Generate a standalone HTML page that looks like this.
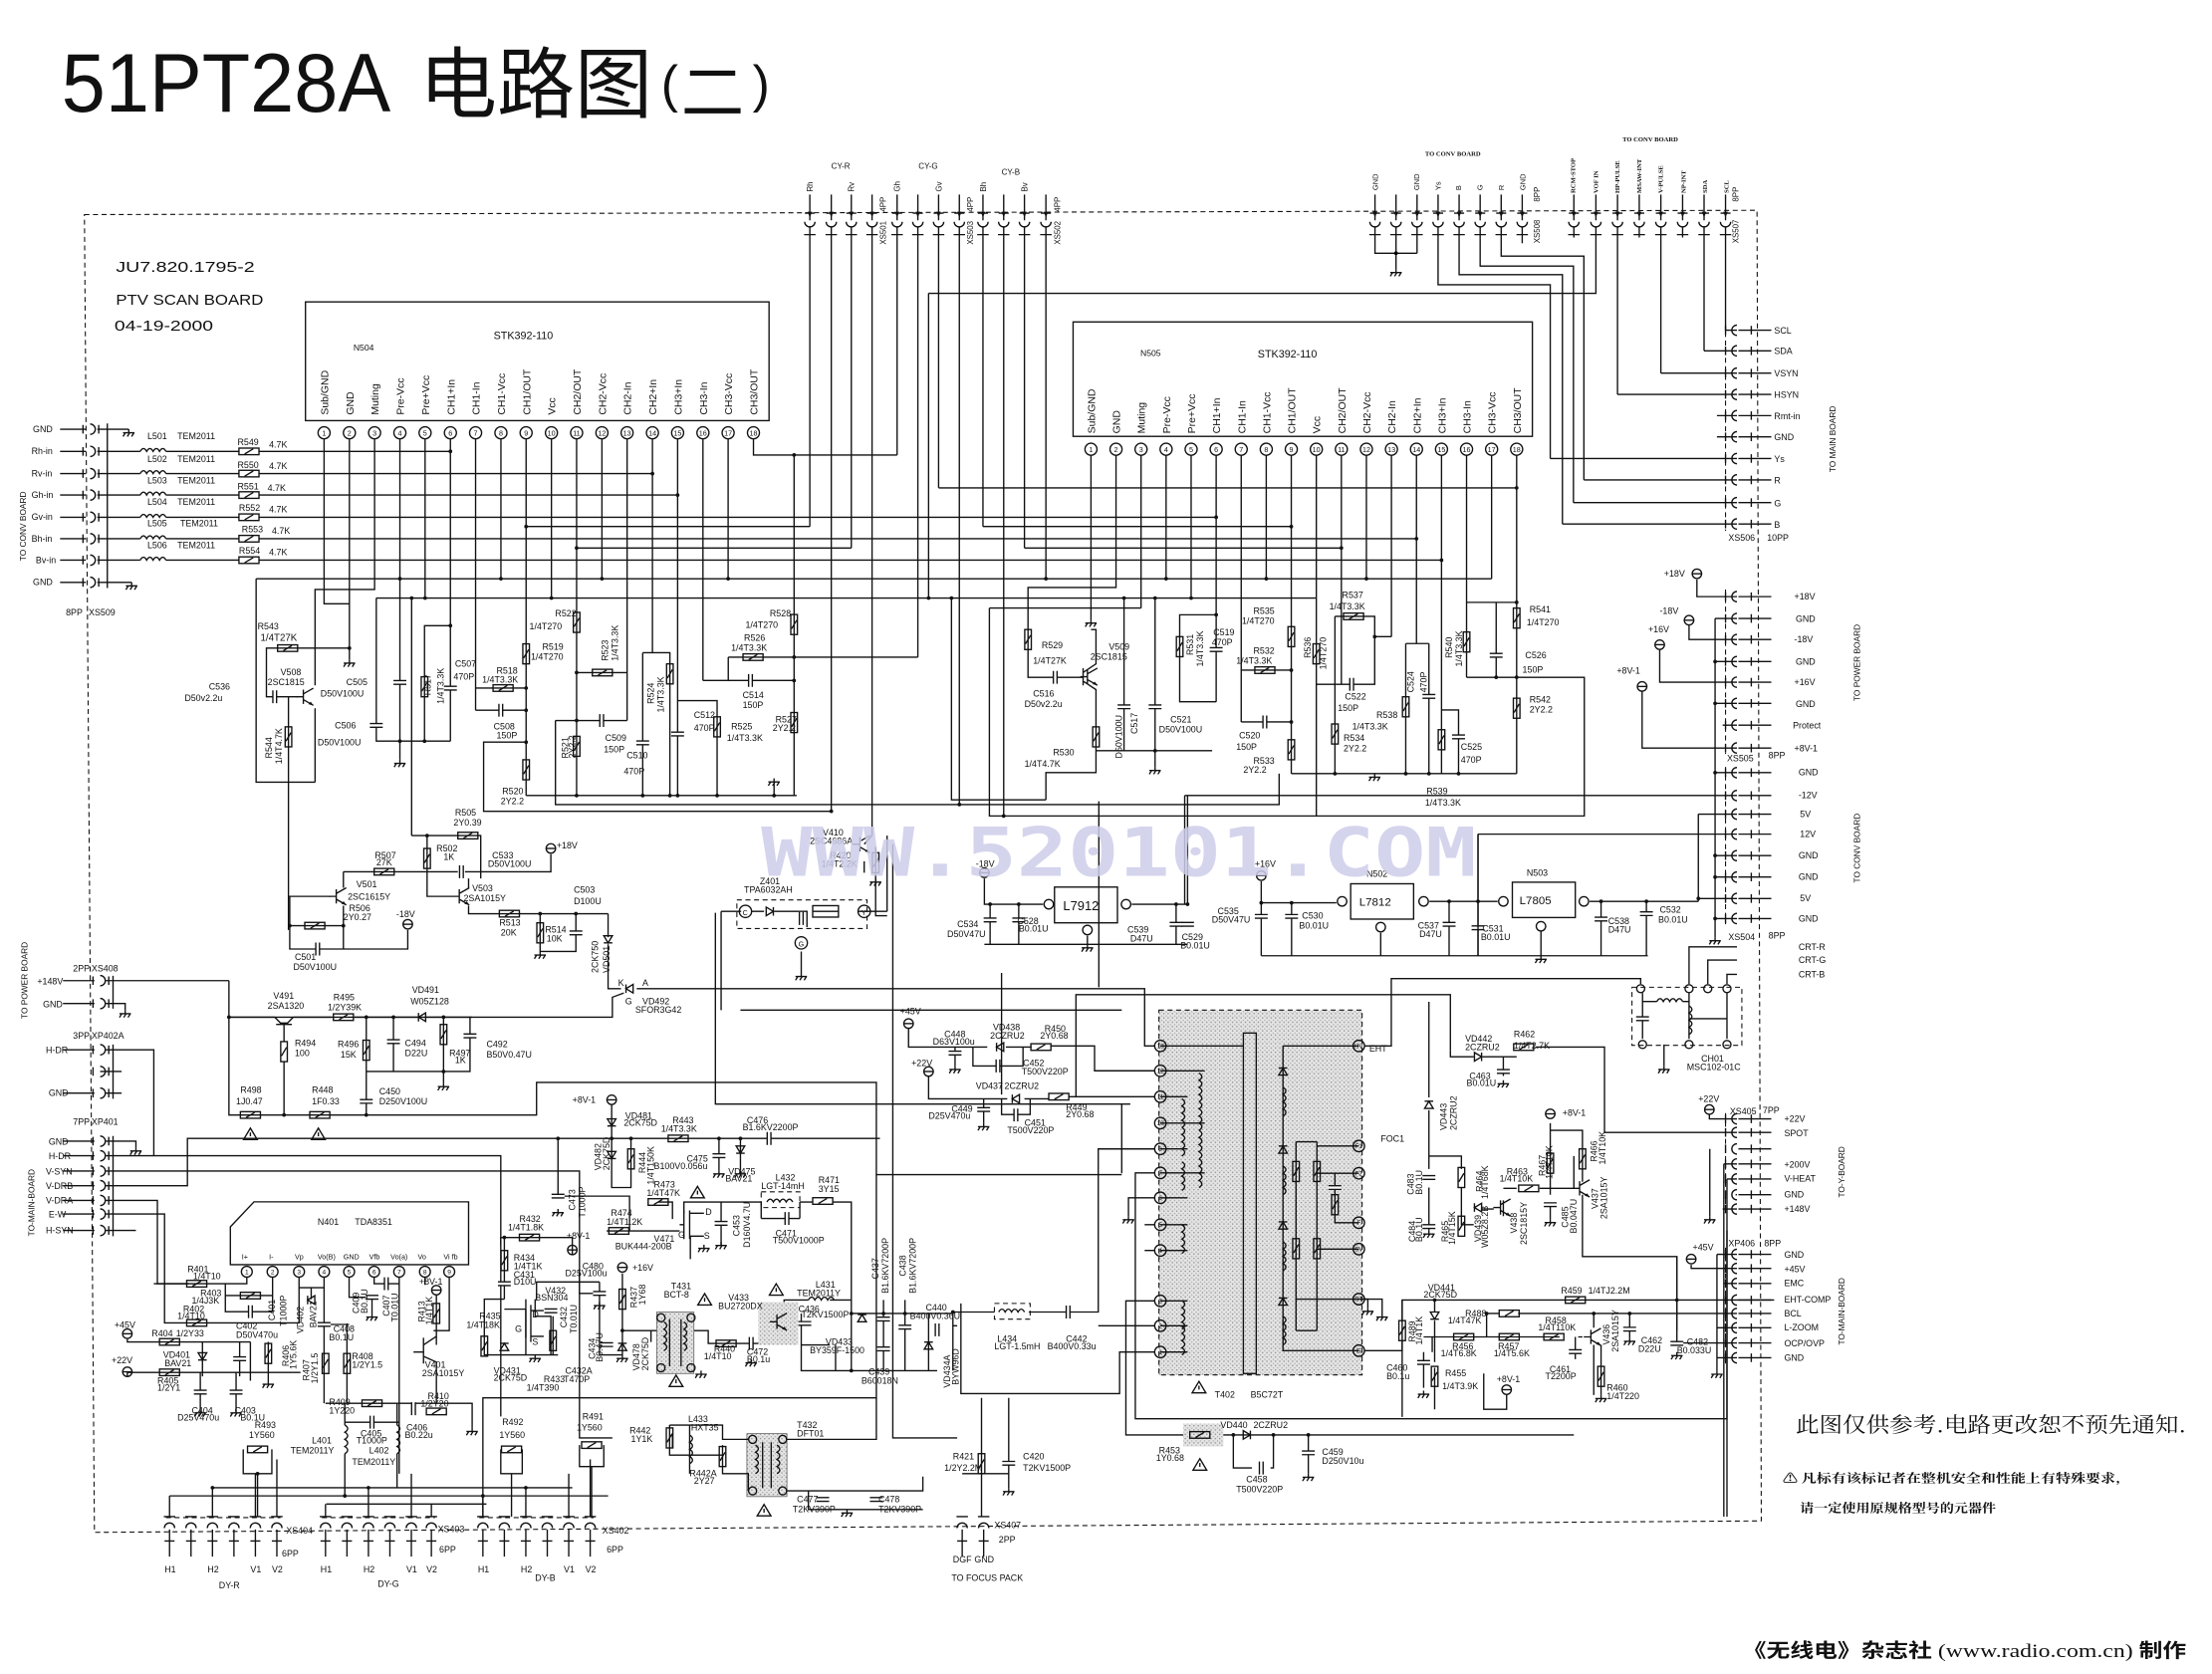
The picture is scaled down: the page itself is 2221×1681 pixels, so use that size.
<!DOCTYPE html>
<html><head><meta charset="utf-8">
<style>
html,body{margin:0;padding:0;background:#fff;}
svg{display:block}
.l{stroke:#111;stroke-width:.95;fill:none}
.d{stroke:#111;stroke-width:.75;fill:none;stroke-dasharray:3.5,2.5}
text{font-family:"Liberation Sans","Noto Sans CJK SC",sans-serif;fill:#111}
.s{font-family:"Liberation Serif",serif;font-weight:bold;font-size:4.6px}
.cj{font-family:"Noto Sans CJK SC",sans-serif}
.cs{font-family:"Noto Serif CJK SC","Noto Sans CJK SC",serif}
</style></head><body>
<svg width="2221" height="1681" viewBox="0 0 1546 1170" preserveAspectRatio="none" font-size="6.2" xmlns="http://www.w3.org/2000/svg">
<defs>
<pattern id="st" width="3" height="3" patternUnits="userSpaceOnUse"><rect width="3" height="3" fill="#e4e4e4"/><rect x="0" y="0" width=".9" height=".9" fill="#8c8c8c"/><rect x="1.6" y="1.7" width=".8" height=".8" fill="#a2a2a2"/></pattern>
<symbol id="gd" overflow="visible"><path class="l" d="M0,0V2.5M-4,2.5H4M-2.4,2.5l-1.6,2.6M.6,2.5l-1.6,2.6M3.6,2.5l-1.6,2.6"/></symbol>
<symbol id="rh" overflow="visible"><rect class="l" x="-7" y="-2.3" width="14" height="4.6" fill="#fff"/><path class="l" d="M-3,1.8L3,-1.8"/></symbol>
<symbol id="rv" overflow="visible"><rect class="l" x="-2.3" y="-7" width="4.6" height="14" fill="#fff"/><path class="l" d="M-1.8,3L1.8,-3"/></symbol>
<symbol id="cp" overflow="visible"><rect x="-4.5" y="-1.3" width="9" height="2.6" fill="#fff"/><path class="l" d="M-4.5,-1.3H4.5M-4.5,1.3H4.5"/></symbol>
<symbol id="cq" overflow="visible"><rect x="-1.3" y="-4.5" width="2.6" height="9" fill="#fff"/><path class="l" d="M-1.3,-4.5V4.5M1.3,-4.5V4.5"/></symbol>
<symbol id="tm" overflow="visible"><circle class="l" r="3.3" fill="#fff"/><path class="l" d="M-3.3,0H3.3"/></symbol>
<symbol id="dd" overflow="visible"><path class="l" d="M-3,-3H3L0,2Z M-3,2H3" fill="#fff"/></symbol>
<symbol id="du" overflow="visible"><path class="l" d="M-3,3H3L0,-2Z M-3,-2H3" fill="#fff"/></symbol>
<symbol id="dr" overflow="visible"><path class="l" d="M-2.5,-3V3L2.5,0Z M2.5,-3V3" fill="#fff"/></symbol>
<symbol id="dl" overflow="visible"><path class="l" d="M2.5,-3V3L-2.5,0Z M-2.5,-3V3" fill="#fff"/></symbol>
<symbol id="wt" overflow="visible"><path class="l" d="M0,-4.5L4.8,3.5H-4.8Z"/><path class="l" d="M0,-1.5V1.2" stroke-width=".6"/></symbol>
<symbol id="tr" overflow="visible"><path class="l" d="M-7,0H-2M-2,-5V5M-2,-2L5,-6M-2,2L5,6"/><path d="M5,6L1.5,5.2L3.2,3.4Z" fill="#111"/></symbol>
<symbol id="iv" overflow="visible"><path class="l" d="M0,0q4,2.5 0,5q4,2.5 0,5q4,2.5 0,5q4,2.5 0,5"/></symbol>
<symbol id="ih" overflow="visible"><path class="l" d="M0,0q2.3,-4 4.5,0q2.3,-4 4.5,0q2.3,-4 4.5,0q2.3,-4 4.5,0"/></symbol>
<symbol id="ct" overflow="visible"><path class="l" d="M-3.6,0a3.6,3.6 0 0 0 7.2,0M0,-19V-1M-3.5,-6H3.5M-4,9H4"/><path d="M-1.6,-7L1.6,-7L0,-3Z" fill="#111"/></symbol>
<symbol id="cb" overflow="visible"><path class="l" d="M-3.6,0a3.6,3.6 0 0 1 7.2,0M0,1V20M-3.5,9H3.5M-4,-8H4"/></symbol>
<symbol id="cr" overflow="visible"><path class="l" d="M0,-3.6a3.6,3.6 0 0 0 0,7.2M1,0H24M10,-3V3M-8,-3V3"/></symbol>
<symbol id="cl" overflow="visible"><path class="l" d="M0,-3.6a3.6,3.6 0 0 1 0,7.2M-5,-3V3M6,-3V3"/></symbol>
</defs>
<rect width="1546" height="1170" fill="#fff"/>

<!-- TITLE -->
<text x="43" y="78" font-size="58" textLength="230" lengthAdjust="spacingAndGlyphs">51PT28A</text>
<text x="293" y="78" font-size="54" class="cj" textLength="163" lengthAdjust="spacingAndGlyphs">电路图</text>
<text x="462" y="71" font-size="36">(</text>
<text x="476" y="80" font-size="44" class="cj">二</text>
<text x="526" y="71" font-size="36">)</text>

<text x="81" y="190" font-size="10" textLength="97" lengthAdjust="spacingAndGlyphs">JU7.820.1795-2</text>
<text x="81" y="213" font-size="10" textLength="103" lengthAdjust="spacingAndGlyphs">PTV SCAN BOARD</text>
<text x="80" y="231" font-size="10" textLength="69" lengthAdjust="spacingAndGlyphs">04-19-2000</text>

<!-- BORDER -->
<path class="d" d="M59,150L1228,147L1231,1063L66,1071Z"/>

<!-- N504 -->
<rect class="l" x="213.5" y="211" width="324" height="83"/>
<text x="345" y="237" font-size="7.5">STK392-110</text>
<text x="247" y="245" font-size="6">N504</text>
<g font-size="7.3">
<text transform="translate(229.3,290) rotate(-90)">Sub/GND</text>
<text transform="translate(247,290) rotate(-90)">GND</text>
<text transform="translate(264.6,290) rotate(-90)">Muting</text>
<text transform="translate(282.3,290) rotate(-90)">Pre-Vcc</text>
<text transform="translate(299.9,290) rotate(-90)">Pre+Vcc</text>
<text transform="translate(317.6,290) rotate(-90)">CH1+In</text>
<text transform="translate(335.2,290) rotate(-90)">CH1-In</text>
<text transform="translate(352.9,290) rotate(-90)">CH1-Vcc</text>
<text transform="translate(370.5,290) rotate(-90)">CH1/OUT</text>
<text transform="translate(388.2,290) rotate(-90)">Vcc</text>
<text transform="translate(405.8,290) rotate(-90)">CH2/OUT</text>
<text transform="translate(423.5,290) rotate(-90)">CH2-Vcc</text>
<text transform="translate(441.1,290) rotate(-90)">CH2-In</text>
<text transform="translate(458.8,290) rotate(-90)">CH2+In</text>
<text transform="translate(476.4,290) rotate(-90)">CH3+In</text>
<text transform="translate(494.1,290) rotate(-90)">CH3-In</text>
<text transform="translate(511.7,290) rotate(-90)">CH3-Vcc</text>
<text transform="translate(529.4,290) rotate(-90)">CH3/OUT</text>
</g>
<g class="l" fill="#fff">
<circle cx="226.5" cy="302.5" r="4.2"/><circle cx="244.2" cy="302.5" r="4.2"/><circle cx="261.8" cy="302.5" r="4.2"/><circle cx="279.5" cy="302.5" r="4.2"/><circle cx="297.1" cy="302.5" r="4.2"/><circle cx="314.8" cy="302.5" r="4.2"/><circle cx="332.4" cy="302.5" r="4.2"/><circle cx="350.1" cy="302.5" r="4.2"/><circle cx="367.7" cy="302.5" r="4.2"/><circle cx="385.4" cy="302.5" r="4.2"/><circle cx="403" cy="302.5" r="4.2"/><circle cx="420.7" cy="302.5" r="4.2"/><circle cx="438.3" cy="302.5" r="4.2"/><circle cx="456" cy="302.5" r="4.2"/><circle cx="473.6" cy="302.5" r="4.2"/><circle cx="491.3" cy="302.5" r="4.2"/><circle cx="508.9" cy="302.5" r="4.2"/><circle cx="526.6" cy="302.5" r="4.2"/>
</g>
<g font-size="5" text-anchor="middle">
<text x="226.5" y="304.5">1</text><text x="244.2" y="304.5">2</text><text x="261.8" y="304.5">3</text><text x="279.5" y="304.5">4</text><text x="297.1" y="304.5">5</text><text x="314.8" y="304.5">6</text><text x="332.4" y="304.5">7</text><text x="350.1" y="304.5">8</text><text x="367.7" y="304.5">9</text><text x="385.4" y="304.5">10</text><text x="403" y="304.5">11</text><text x="420.7" y="304.5">12</text><text x="438.3" y="304.5">13</text><text x="456" y="304.5">14</text><text x="473.6" y="304.5">15</text><text x="491.3" y="304.5">16</text><text x="508.9" y="304.5">17</text><text x="526.6" y="304.5">18</text>
</g>

<!-- N505 -->
<rect class="l" x="750" y="225" width="321" height="80"/>
<text x="797" y="249" font-size="6">N505</text>
<text x="879" y="250" font-size="7.5">STK392-110</text>
<g font-size="7.3">
<text transform="translate(765.3,303) rotate(-90)">Sub/GND</text>
<text transform="translate(782.8,303) rotate(-90)">GND</text>
<text transform="translate(800.3,303) rotate(-90)">Muting</text>
<text transform="translate(817.8,303) rotate(-90)">Pre-Vcc</text>
<text transform="translate(835.3,303) rotate(-90)">Pre+Vcc</text>
<text transform="translate(852.8,303) rotate(-90)">CH1+In</text>
<text transform="translate(870.3,303) rotate(-90)">CH1-In</text>
<text transform="translate(887.8,303) rotate(-90)">CH1-Vcc</text>
<text transform="translate(905.3,303) rotate(-90)">CH1/OUT</text>
<text transform="translate(922.8,303) rotate(-90)">Vcc</text>
<text transform="translate(940.3,303) rotate(-90)">CH2/OUT</text>
<text transform="translate(957.8,303) rotate(-90)">CH2-Vcc</text>
<text transform="translate(975.3,303) rotate(-90)">CH2-In</text>
<text transform="translate(992.8,303) rotate(-90)">CH2+In</text>
<text transform="translate(1010.3,303) rotate(-90)">CH3+In</text>
<text transform="translate(1027.8,303) rotate(-90)">CH3-In</text>
<text transform="translate(1045.3,303) rotate(-90)">CH3-Vcc</text>
<text transform="translate(1062.8,303) rotate(-90)">CH3/OUT</text>
</g>
<g class="l" fill="#fff">
<circle cx="762.5" cy="314" r="4.2"/><circle cx="780" cy="314" r="4.2"/><circle cx="797.5" cy="314" r="4.2"/><circle cx="815" cy="314" r="4.2"/><circle cx="832.5" cy="314" r="4.2"/><circle cx="850" cy="314" r="4.2"/><circle cx="867.5" cy="314" r="4.2"/><circle cx="885" cy="314" r="4.2"/><circle cx="902.5" cy="314" r="4.2"/><circle cx="920" cy="314" r="4.2"/><circle cx="937.5" cy="314" r="4.2"/><circle cx="955" cy="314" r="4.2"/><circle cx="972.5" cy="314" r="4.2"/><circle cx="990" cy="314" r="4.2"/><circle cx="1007.5" cy="314" r="4.2"/><circle cx="1025" cy="314" r="4.2"/><circle cx="1042.5" cy="314" r="4.2"/><circle cx="1060" cy="314" r="4.2"/>
</g>
<g font-size="5" text-anchor="middle">
<text x="762.5" y="316">1</text><text x="780" y="316">2</text><text x="797.5" y="316">3</text><text x="815" y="316">4</text><text x="832.5" y="316">5</text><text x="850" y="316">6</text><text x="867.5" y="316">7</text><text x="885" y="316">8</text><text x="902.5" y="316">9</text><text x="920" y="316">10</text><text x="937.5" y="316">11</text><text x="955" y="316">12</text><text x="972.5" y="316">13</text><text x="990" y="316">14</text><text x="1007.5" y="316">15</text><text x="1025" y="316">16</text><text x="1042.5" y="316">17</text><text x="1060" y="316">18</text>
</g>

<!-- N504 / N505 WIRES -->
<path class="l" d="
M226.5,307V422H244.2 M244.2,307V461 M261.8,307V412H220.2V479 M220.2,495V546.7 M279.5,307V531 M297.1,307V418 M314.8,307V518 M332.4,307V496.4 M350.1,307V404.5 M367.7,307V556 M385.4,307V418 M403,307V556 M420.7,307V404.5 M438.3,307V503.6 M456,307V456.2 M473.6,307V556 M491.3,307V475.6 M508.9,307V404.5 M526.6,307V318H627
M181,315.5H314.8 M181,331H456 M181,346H473.6 M181,361.5H850 M181,376.5H990 M181,391.5H1007.5
M367.7,368H566 M403,383H595 M656,341H1060 M687,368H902.5 M716,383H937.5
M179,404.5H1042.5 M263,418H920 M263,418V518H314.8 M287.7,418V584
M244.2,453H186.2V487H208 M179,404.5V546.7H220.2 M201.6,487V650
M314.8,437.3H296.7V518
M332.4,480.9H367.7 M332.4,496.4H367.7 M367.7,518.7H338V567H581
M403,470.1H438.3 M388.2,503.6H438.3 M388.2,503.6V562.3H894V540.7
M367.7,556H556.8 M541,556V547
M449.2,456.2H468.2V556 M449.2,456.2V556 M473.6,489.7H501.2V556
M491.3,475.6H555 M509,459.3V475.6 M509,459.3H641.5 M555,318V556
M649,205V418
M665,418V559H731 M691.5,425H797.5 M691.5,425V570.3H1107.3V473.4H1025
M762.5,318V433 M780,318V410.6H718.5V473.4H757 M797.5,318V425 M815,318V404.5 M832.5,318V418 M850,318V490.5 M867.5,318V504.6 M885,318V404.5 M902.5,318V540.7 M920,318V570.3 M937.5,318V478.3 M955,318V404.5 M972.5,318V445 M990,318V449.8 M1007.5,318V540.7 M1025,318V421H1060 M1042.5,318V404.5 M1060,318V540.7
M850,429.7H824.5V490.5H850 M867.5,468.4H902.5 M867.5,504.6H902.5
M933,430.8H960.8V445H972.5 M933,430.8V540.7 M920,478.3H960.8V445
M982.5,449.8H998.7 M982.5,449.8V540.7 M998.7,449.8V540.7 M1007.5,496.2H1019.4V540.7
M1025,421V473.4 M1045.7,421V473.4 M902.5,540.7H1060
M757,467V479 M757,470L766,464V440H762.5 M757,476L766,482V540H731V559
M785.6,418V524.7 M807.3,418V536 M766,524.7H847.2
M731,164V404.5
"/>
<g fill="#111">
<circle cx="314.8" cy="315.5" r="1.3"/><circle cx="456" cy="331" r="1.3"/><circle cx="473.6" cy="346" r="1.3"/><circle cx="850" cy="361.5" r="1.3"/><circle cx="990" cy="376.5" r="1.3"/><circle cx="1007.5" cy="391.5" r="1.3"/>
<circle cx="367.7" cy="368" r="1.3"/><circle cx="403" cy="383" r="1.3"/><circle cx="1060" cy="341" r="1.3"/><circle cx="902.5" cy="368" r="1.3"/><circle cx="937.5" cy="383" r="1.3"/>
<circle cx="279.5" cy="404.5" r="1.3"/><circle cx="350.1" cy="404.5" r="1.3"/><circle cx="420.7" cy="404.5" r="1.3"/><circle cx="508.9" cy="404.5" r="1.3"/><circle cx="815" cy="404.5" r="1.3"/><circle cx="885" cy="404.5" r="1.3"/><circle cx="955" cy="404.5" r="1.3"/><circle cx="731" cy="404.5" r="1.3"/>
<circle cx="297.1" cy="418" r="1.3"/><circle cx="385.4" cy="418" r="1.3"/><circle cx="832.5" cy="418" r="1.3"/><circle cx="287.7" cy="418" r="1.3"/><circle cx="649" cy="418" r="1.3"/><circle cx="665" cy="418" r="1.3"/><circle cx="785.6" cy="418" r="1.3"/><circle cx="807.3" cy="418" r="1.3"/>
<circle cx="244.2" cy="453" r="1.3"/><circle cx="314.8" cy="437.3" r="1.3"/><circle cx="279.5" cy="518" r="1.3"/><circle cx="296.7" cy="518" r="1.3"/>
<circle cx="367.7" cy="480.9" r="1.3"/><circle cx="367.7" cy="496.4" r="1.3"/><circle cx="367.7" cy="518.7" r="1.3"/><circle cx="403" cy="470.1" r="1.3"/><circle cx="403" cy="503.6" r="1.3"/><circle cx="403" cy="556" r="1.3"/><circle cx="449.2" cy="556" r="1.3"/><circle cx="468.2" cy="556" r="1.3"/><circle cx="473.6" cy="556" r="1.3"/><circle cx="501.2" cy="556" r="1.3"/><circle cx="541" cy="556" r="1.3"/><circle cx="555" cy="318" r="1.3"/><circle cx="555" cy="459.3" r="1.3"/><circle cx="555" cy="475.6" r="1.3"/>
<circle cx="850" cy="429.7" r="1.3"/><circle cx="902.5" cy="468.4" r="1.3"/><circle cx="902.5" cy="504.6" r="1.3"/><circle cx="960.8" cy="445" r="1.3"/><circle cx="933" cy="540.7" r="1.3"/><circle cx="982.5" cy="540.7" r="1.3"/><circle cx="998.7" cy="540.7" r="1.3"/><circle cx="1019.4" cy="540.7" r="1.3"/><circle cx="1060" cy="421" r="1.3"/><circle cx="1045.7" cy="473.4" r="1.3"/><circle cx="1060" cy="473.4" r="1.3"/><circle cx="807.3" cy="524.7" r="1.3"/><circle cx="581" cy="567" r="1.3"/><circle cx="670.5" cy="562.3" r="1.3"/><circle cx="701.5" cy="570.3" r="1.3"/>
</g>
<use href="#gd" x="244.2" y="461"/><use href="#gd" x="279.5" y="531"/><use href="#gd" x="541" y="544"/><use href="#gd" x="762.5" y="433"/><use href="#gd" x="960.8" y="540.7"/><use href="#gd" x="807.3" y="536"/>
<use href="#rh" x="201" y="453"/><use href="#cq" x="192" y="487"/><use href="#tr" x="214" y="487"/><use href="#rv" x="201.6" y="515"/>
<use href="#rv" x="296.7" y="480"/><use href="#cp" x="314.8" y="481"/><use href="#cp" x="279.5" y="477"/><use href="#cp" x="263" y="507"/>
<use href="#rh" x="351.6" y="480.9"/><use href="#cq" x="350" y="496.4"/><use href="#rv" x="367.7" y="457"/><use href="#rv" x="367.7" y="538"/>
<use href="#rv" x="403" y="435"/><use href="#rv" x="403" y="521.6"/><use href="#rh" x="421" y="470.1"/><use href="#cq" x="420.5" y="503.6"/>
<use href="#rv" x="468.2" y="471"/><use href="#cp" x="449.2" y="519.2"/><use href="#rv" x="501.2" y="508"/><use href="#cp" x="473.6" y="513"/>
<use href="#cq" x="524.5" y="475.6"/><use href="#rh" x="526.3" y="459.3"/><use href="#rv" x="555" y="436.5"/><use href="#rv" x="555" y="505"/>
<use href="#rv" x="824.5" y="452"/><use href="#cp" x="850" y="454"/><use href="#rh" x="884" y="468.4"/><use href="#cq" x="884" y="504.6"/>
<use href="#rv" x="902.5" y="445"/><use href="#rv" x="902.5" y="524"/><use href="#rv" x="920" y="457"/><use href="#rh" x="946" y="430.8"/><use href="#rv" x="933" y="513"/><use href="#cq" x="944.7" y="478.3"/>
<use href="#rv" x="982.5" y="494"/><use href="#cp" x="998.7" y="486.7"/><use href="#cp" x="1019.4" y="515"/><use href="#rv" x="1007.5" y="517"/>
<use href="#rv" x="1025" y="448.7"/><use href="#cp" x="1045.7" y="458"/><use href="#rv" x="1060" y="432"/><use href="#rv" x="1060" y="495"/>
<use href="#rv" x="718.5" y="447"/><use href="#cq" x="737.5" y="473.4"/><use href="#tr" x="762" y="473"/><use href="#rv" x="766" y="515"/><use href="#cp" x="785.6" y="494"/><use href="#cp" x="807.3" y="494"/>

<g>
<text x="180" y="440">R543</text><text x="182" y="448" font-size="6.8">1/4T27K</text>
<text x="196" y="472">V508</text><text x="187" y="479">2SC1815</text>
<text x="146" y="482">C536</text><text x="129" y="490">D50v2.2u</text>
<text transform="translate(190,530) rotate(-90)">R544</text><text transform="translate(197,534) rotate(-90)">1/4T4.7K</text>
<text x="242" y="479">C505</text><text x="224" y="487">D50V100U</text>
<text x="234" y="509">C506</text><text x="222" y="521">D50V100U</text>
<text transform="translate(301,486) rotate(-90)">R517</text><text transform="translate(310,492) rotate(-90)">1/4T3.3K</text>
<text x="318" y="466">C507</text><text x="317" y="475">470P</text>
<text x="347" y="471">R518</text><text x="337" y="477">1/4T3.3K</text>
<text x="345" y="510">C508</text><text x="347" y="516">150P</text>
<text x="379" y="454">R519</text><text x="371" y="461">1/4T270</text>
<text x="388" y="431">R522</text><text x="370" y="440">1/4T270</text>
<text transform="translate(425,462) rotate(-90)">R523</text><text transform="translate(432,462) rotate(-90)">1/4T3.3K</text>
<text transform="translate(397,530) rotate(-90)">R521</text><text transform="translate(402,530) rotate(-90)">2Y2.2</text>
<text x="423" y="518">C509</text><text x="422" y="526">150P</text>
<text x="351" y="555">R520</text><text x="350" y="562">2Y2.2</text>
<text transform="translate(457,492) rotate(-90)">R524</text><text transform="translate(464,498) rotate(-90)">1/4T3.3K</text>
<text x="438" y="530">C510</text><text x="436" y="541">470P</text>
<text x="485" y="502">C512</text><text x="485" y="511">470P</text>
<text x="511" y="510">R525</text><text x="508" y="518">1/4T3.3K</text>
<text x="519" y="488">C514</text><text x="519" y="495">150P</text>
<text x="520" y="448">R526</text><text x="511" y="455">1/4T3.3K</text>
<text x="538" y="431">R528</text><text x="521" y="439">1/4T270</text>
<text x="542" y="505">R527</text><text x="540" y="511">2Y2.2</text>
<text x="728" y="453">R529</text><text x="722" y="464">1/4T27K</text>
<text x="722" y="487">C516</text><text x="716" y="494">D50v2.2u</text>
<text x="775" y="454">V509</text><text x="762" y="461">2SC1815</text>
<text x="736" y="528">R530</text><text x="716" y="536">1/4T4.7K</text>
<text transform="translate(795,513) rotate(-90)">C517</text><text transform="translate(784,530) rotate(-90)">D50V100U</text>
<text x="818" y="505">C521</text><text x="810" y="512">D50V100U</text>
<text transform="translate(834,458) rotate(-90)">R531</text><text transform="translate(841,466) rotate(-90)">1/4T3.3K</text>
<text x="848" y="444">C519</text><text x="847" y="451">470P</text>
<text x="876" y="429">R535</text><text x="868" y="436">1/4T270</text>
<text x="876" y="457">R532</text><text x="864" y="464">1/4T3.3K</text>
<text x="866" y="516">C520</text><text x="864" y="524">150P</text>
<text x="876" y="534">R533</text><text x="869" y="540">2Y2.2</text>
<text transform="translate(916,460) rotate(-90)">R536</text><text transform="translate(927,468) rotate(-90)">1/4T270</text>
<text x="938" y="418">R537</text><text x="929" y="426">1/4T3.3K</text>
<text x="940" y="489">C522</text><text x="935" y="497">150P</text>
<text x="939" y="518">R534</text><text x="939" y="525">2Y2.2</text>
<text x="962" y="502">R538</text><text x="945" y="510">1/4T3.3K</text>
<text transform="translate(988,484) rotate(-90)">C524</text><text transform="translate(997,484) rotate(-90)">470P</text>
<text transform="translate(1015,460) rotate(-90)">R540</text><text transform="translate(1022,466) rotate(-90)">1/4T3.3K</text>
<text x="1021" y="524">C525</text><text x="1021" y="533">470P</text>
<text x="997" y="555">R539</text><text x="996" y="563">1/4T3.3K</text>
<text x="1066" y="460">C526</text><text x="1064" y="470">150P</text>
<text x="1069" y="428">R541</text><text x="1067" y="437">1/4T270</text>
<text x="1069" y="491">R542</text><text x="1069" y="498">2Y2.2</text>
</g>

<!-- LEFT INPUT CONNECTOR XS509 -->
<g>
<text x="23" y="302">GND</text><text x="22" y="317.5">Rh-in</text><text x="22" y="333">Rv-in</text><text x="22" y="348">Gh-in</text><text x="22" y="363.5">Gv-in</text><text x="22" y="378.5">Bh-in</text><text x="25" y="393.5">Bv-in</text><text x="23" y="409">GND</text>
<text transform="translate(18,392) rotate(-90)" font-size="5.8">TO CONV BOARD</text>
<text x="46" y="430">8PP</text><text x="62" y="430">XS509</text>
</g>
<path class="l" d="M42,300H60 M42,315.5H60 M42,331H60 M42,346H60 M42,361.5H60 M42,376.5H60 M42,391.5H60 M42,407H60
M68,300H90 M68,407H92 M75,296V411
M68,315.5H98 M116,315.5H167 M68,331H98 M116,331H167 M68,346H98 M116,346H167 M68,361.5H98 M116,361.5H167 M68,376.5H98 M116,376.5H167 M68,391.5H98 M116,391.5H167"/>
<use href="#cl" x="63" y="300"/><use href="#cl" x="63" y="315.5"/><use href="#cl" x="63" y="331"/><use href="#cl" x="63" y="346"/><use href="#cl" x="63" y="361.5"/><use href="#cl" x="63" y="376.5"/><use href="#cl" x="63" y="391.5"/><use href="#cl" x="63" y="407"/>
<use href="#gd" x="90" y="300"/><use href="#gd" x="92" y="407"/>
<use href="#ih" x="98" y="315.5"/><use href="#ih" x="98" y="331"/><use href="#ih" x="98" y="346"/><use href="#ih" x="98" y="361.5"/><use href="#ih" x="98" y="376.5"/><use href="#ih" x="98" y="391.5"/>
<use href="#rh" x="174" y="315.5"/><use href="#rh" x="174" y="331"/><use href="#rh" x="174" y="346"/><use href="#rh" x="174" y="361.5"/><use href="#rh" x="174" y="376.5"/><use href="#rh" x="174" y="391.5"/>
<g>
<text x="103" y="307">L501</text><text x="124" y="307">TEM2011</text><text x="166" y="311">R549</text><text x="188" y="313">4.7K</text>
<text x="103" y="323">L502</text><text x="124" y="323">TEM2011</text><text x="166" y="327">R550</text><text x="188" y="328">4.7K</text>
<text x="103" y="338">L503</text><text x="124" y="338">TEM2011</text><text x="166" y="342">R551</text><text x="187" y="343">4.7K</text>
<text x="103" y="353">L504</text><text x="124" y="353">TEM2011</text><text x="167" y="357">R552</text><text x="188" y="358">4.7K</text>
<text x="103" y="368">L505</text><text x="126" y="368">TEM2011</text><text x="169" y="372">R553</text><text x="190" y="373">4.7K</text>
<text x="103" y="383">L506</text><text x="124" y="383">TEM2011</text><text x="167" y="387">R554</text><text x="188" y="388">4.7K</text>
</g>

<!-- TOP CY CONNECTORS -->
<g>
<text x="581" y="118" font-size="5.6">CY-R</text><text x="642" y="118" font-size="5.6">CY-G</text><text x="700" y="122" font-size="5.6">CY-B</text>
<text transform="translate(568,134) rotate(-90)" font-size="5.5">Rh</text><text transform="translate(597,134) rotate(-90)" font-size="5.5">Rv</text>
<text transform="translate(629,134) rotate(-90)" font-size="5.5">Gh</text><text transform="translate(658,134) rotate(-90)" font-size="5.5">Gv</text>
<text transform="translate(689,134) rotate(-90)" font-size="5.5">Bh</text><text transform="translate(718,134) rotate(-90)" font-size="5.5">Bv</text>
<text transform="translate(619,148) rotate(-90)" font-size="5.5">4PP</text><text transform="translate(619,171) rotate(-90)" font-size="5.5">XS501</text>
<text transform="translate(680,148) rotate(-90)" font-size="5.5">4PP</text><text transform="translate(680,171) rotate(-90)" font-size="5.5">XS503</text>
<text transform="translate(741,148) rotate(-90)" font-size="5.5">4PP</text><text transform="translate(741,171) rotate(-90)" font-size="5.5">XS502</text>
</g>
<use href="#ct" x="566" y="155"/><use href="#ct" x="581" y="155"/><use href="#ct" x="595" y="155"/><use href="#ct" x="609.5" y="155"/>
<use href="#ct" x="627" y="155"/><use href="#ct" x="641.5" y="155"/><use href="#ct" x="656" y="155"/><use href="#ct" x="670.5" y="155"/>
<use href="#ct" x="687" y="155"/><use href="#ct" x="701.5" y="155"/><use href="#ct" x="716" y="155"/><use href="#ct" x="731" y="155"/>
<path class="l" d="M566,159V368 M581,159V567 M595,159V383 M609.5,159V584 M627,159V318 M641.5,159V459.3 M656,159V341 M670.5,159V562.3 M687,159V368 M701.5,159V570.3 M716,159V383 M731,159V164"/>

<!-- TOP RIGHT CONNECTORS XS508 / XS507 -->
<g>
<text x="996" y="109" class="s">TO CONV BOARD</text>
<text x="1134" y="99" class="s">TO CONV BOARD</text>
<text transform="translate(963,133) rotate(-90)" font-size="5.2">GND</text>
<text transform="translate(992,133) rotate(-90)" font-size="5.2">GND</text>
<text transform="translate(1007,133) rotate(-90)" font-size="5.2">Ys</text>
<text transform="translate(1021,133) rotate(-90)" font-size="5.2">B</text>
<text transform="translate(1036,133) rotate(-90)" font-size="5.2">G</text>
<text transform="translate(1051,133) rotate(-90)" font-size="5.2">R</text>
<text transform="translate(1066,133) rotate(-90)" font-size="5.2">GND</text>
<text transform="translate(1076,141) rotate(-90)" font-size="5.5">8PP</text>
<text transform="translate(1076,170) rotate(-90)" font-size="5.5">XS508</text>
<text transform="translate(1101,135) rotate(-90)" class="s">RCM-STOP</text>
<text transform="translate(1117,135) rotate(-90)" class="s">VOF IN</text>
<text transform="translate(1132,135) rotate(-90)" class="s">HP-PULSE</text>
<text transform="translate(1147,135) rotate(-90)" class="s">MSAW-INT</text>
<text transform="translate(1162,135) rotate(-90)" class="s">V-PULSE</text>
<text transform="translate(1178,135) rotate(-90)" class="s">NP-INT</text>
<text transform="translate(1193,135) rotate(-90)" class="s">SDA</text>
<text transform="translate(1208,135) rotate(-90)" class="s">SCL</text>
<text transform="translate(1215,141) rotate(-90)" font-size="5.5">8PP</text>
<text transform="translate(1215,170) rotate(-90)" font-size="5.5">XS507</text>
</g>
<use href="#ct" x="961" y="155"/><use href="#ct" x="975.7" y="155"/><use href="#ct" x="990.4" y="155"/><use href="#ct" x="1005.1" y="155"/><use href="#ct" x="1019.8" y="155"/><use href="#ct" x="1034.5" y="155"/><use href="#ct" x="1049.2" y="155"/><use href="#ct" x="1063.9" y="155"/>
<use href="#ct" x="1100" y="155"/><use href="#ct" x="1115.4" y="155"/><use href="#ct" x="1130.5" y="155"/><use href="#ct" x="1145.7" y="155"/><use href="#ct" x="1160.8" y="155"/><use href="#ct" x="1176" y="155"/><use href="#ct" x="1191" y="155"/><use href="#ct" x="1206" y="155"/>
<path class="l" d="M961,159V177H990.4 M975.7,159V188 M990.4,159V177 M1005.1,159V199H1083.5V320.5 M1019.8,159V192H1092V366.2 M1034.5,159V186H1099.7V351.3 M1049.2,159V179H1107V335.4 M1063.9,159V170
M1115.4,159V205H649 M1130.5,159V275.7 M1160.8,159V260.8 M1191,159V245.2 M1206,159V230.8 M1100,159V166 M1145.7,159V166 M1176,159V166"/>
<use href="#gd" x="975.7" y="188"/>
<circle cx="975.7" cy="177" r="1.3"/>

<!-- XS506 -->
<path class="l" d="M1206,230.8H1214 M1191,245.2H1214 M1160.8,260.8H1214 M1130.5,275.7H1214 M1200,290.5H1214 M1200,305.3H1214 M1083.5,320.5H1214 M1107,335.4H1214 M1099.7,351.3H1214 M1092,366.2H1214"/>
<path class="d" d="M1206,226V371"/>
<use href="#cr" x="1214" y="230.8"/><use href="#cr" x="1214" y="245.2"/><use href="#cr" x="1214" y="260.8"/><use href="#cr" x="1214" y="275.7"/><use href="#cr" x="1214" y="290.5"/><use href="#cr" x="1214" y="305.3"/><use href="#cr" x="1214" y="320.5"/><use href="#cr" x="1214" y="335.4"/><use href="#cr" x="1214" y="351.3"/><use href="#cr" x="1214" y="366.2"/>
<g>
<text x="1240" y="233">SCL</text><text x="1240" y="247.5">SDA</text><text x="1240" y="263">VSYN</text><text x="1240" y="278">HSYN</text><text x="1240" y="293">Rmt-in</text><text x="1240" y="307.5">GND</text><text x="1240" y="323">Ys</text><text x="1240" y="338">R</text><text x="1240" y="354">G</text><text x="1240" y="369">B</text>
<text x="1208" y="378">XS506</text><text x="1235" y="378">10PP</text>
<text transform="translate(1283,330) rotate(-90)" font-size="5.8">TO MAIN BOARD</text>
</g>

<!-- XS505 -->
<path class="l" d="M1186,405V417H1214 M1180.5,437V447H1214 M1160,454V476.8H1214 M1147.7,483V522.8H1214 M1198.7,432.3H1214 M1198.7,462.4H1214 M1198.7,491.6H1214 M1204,506.8H1214 M1198.7,432.3V655
M1198.7,540H1214 M828,556H1214 M1187,569H1214 M1033,583H1214 M1198.7,598H1214 M1198.7,613H1214 M1187,628H1214 M1198.7,642H1214 M1187,569V630"/>
<path class="d" d="M1206,412V527 M1206,536V646"/>
<use href="#tm" x="1186" y="401"/><use href="#tm" x="1180.5" y="433.5"/><use href="#tm" x="1160" y="450.6"/><use href="#tm" x="1147.7" y="479.8"/>
<use href="#cr" x="1214" y="417"/><use href="#cr" x="1214" y="432.3"/><use href="#cr" x="1214" y="447"/><use href="#cr" x="1214" y="462.4"/><use href="#cr" x="1214" y="476.8"/><use href="#cr" x="1214" y="491.6"/><use href="#cr" x="1214" y="506.8"/><use href="#cr" x="1214" y="522.8"/>
<use href="#cr" x="1214" y="540"/><use href="#cr" x="1214" y="556"/><use href="#cr" x="1214" y="569"/><use href="#cr" x="1214" y="583"/><use href="#cr" x="1214" y="598"/><use href="#cr" x="1214" y="613"/><use href="#cr" x="1214" y="628"/><use href="#cr" x="1214" y="642"/>
<use href="#gd" x="1198.7" y="655"/>
<g fill="#111"><circle cx="1198.7" cy="462.4" r="1.3"/><circle cx="1198.7" cy="491.6" r="1.3"/><circle cx="1198.7" cy="540" r="1.3"/><circle cx="1198.7" cy="598" r="1.3"/><circle cx="1198.7" cy="613" r="1.3"/><circle cx="1198.7" cy="642" r="1.3"/><circle cx="1187" cy="628" r="1.3"/></g>
<g>
<text x="1163" y="403">+18V</text><text x="1160" y="429">-18V</text><text x="1152" y="442">+16V</text><text x="1130" y="471">+8V-1</text>
<text x="1254" y="419">+18V</text><text x="1255" y="434.5">GND</text><text x="1254" y="449">-18V</text><text x="1255" y="464.5">GND</text><text x="1254" y="479">+16V</text><text x="1255" y="494">GND</text><text x="1253" y="509">Protect</text><text x="1254" y="525">+8V-1</text>
<text x="1207" y="532">XS505</text><text x="1236" y="530">8PP</text>
<text transform="translate(1300,490) rotate(-90)" font-size="5.8">TO POWER BOARD</text>
<text x="1257" y="542">GND</text><text x="1257" y="558">-12V</text><text x="1258" y="571">5V</text><text x="1258" y="585">12V</text><text x="1257" y="600">GND</text><text x="1257" y="615">GND</text><text x="1258" y="630">5V</text><text x="1257" y="644">GND</text>
<text x="1208" y="657">XS504</text><text x="1236" y="656">8PP</text>
<text transform="translate(1300,617) rotate(-90)" font-size="5.8">TO CONV BOARD</text>
<text x="1257" y="664">CRT-R</text><text x="1257" y="673">CRT-G</text><text x="1257" y="683">CRT-B</text>
</g>

<!-- REGULATORS -->
<rect class="l" x="737" y="620" width="44" height="25" fill="#fff"/><text x="743" y="636" font-size="9">L7912</text>
<rect class="l" x="944" y="617.7" width="44" height="24.7" fill="#fff"/><text x="950" y="633" font-size="8">L7812</text>
<rect class="l" x="1057" y="616.6" width="44" height="24.7" fill="#fff"/><text x="1062" y="632" font-size="8">L7805</text>
<path class="l" d="M688,614V632H729 M692,632V660 M712,632V660 M688,660H830 M760,654V660 M791,632H830V556 M822,632V660 M881.5,616V631H934 M881.5,631V668 M902.7,631V668 M881.5,668H1151.7 M965,652V668 M999,630H1046.7 M1012.8,630V668 M1033,630V583 M1033,630V668 M1077,651V668 M1111,630H1187 M1119,630V668 M1150.7,630V668"/>
<g class="l" fill="#fff"><circle cx="733" cy="632" r="3.3"/><circle cx="787" cy="632" r="3.3"/><circle cx="760" cy="650" r="3.3"/><circle cx="938" cy="630" r="3.3"/><circle cx="995" cy="630" r="3.3"/><circle cx="965" cy="648" r="3.3"/><circle cx="1050.7" cy="630" r="3.3"/><circle cx="1107" cy="630" r="3.3"/><circle cx="1077" cy="647.4" r="3.3"/></g>
<use href="#tm" x="688" y="610"/><use href="#tm" x="881.5" y="612"/>
<use href="#cp" x="692" y="643"/><use href="#cp" x="712" y="643"/><use href="#cp" x="822" y="646"/><use href="#cp" x="830" y="646"/>
<use href="#cp" x="881.5" y="640.5"/><use href="#cp" x="902.7" y="640.5"/><use href="#cp" x="1012.8" y="646"/><use href="#cp" x="1033" y="648.5"/><use href="#cp" x="1119" y="642.4"/><use href="#cp" x="1150.7" y="638.6"/>
<use href="#gd" x="760" y="660"/><use href="#gd" x="1077" y="668"/>
<g fill="#111"><circle cx="692" cy="632" r="1.3"/><circle cx="712" cy="632" r="1.3"/><circle cx="822" cy="632" r="1.3"/><circle cx="830" cy="632" r="1.3"/><circle cx="881.5" cy="631" r="1.3"/><circle cx="902.7" cy="631" r="1.3"/><circle cx="1012.8" cy="630" r="1.3"/><circle cx="1033" cy="630" r="1.3"/><circle cx="1119" cy="630" r="1.3"/><circle cx="1150.7" cy="630" r="1.3"/></g>
<g>
<text x="682" y="606">-18V</text><text x="669" y="648">C534</text><text x="662" y="655">D50V47U</text><text x="711" y="646">C528</text><text x="712" y="651">B0.01U</text>
<text x="788" y="652">C539</text><text x="790" y="658">D47U</text><text x="826" y="657">C529</text><text x="825" y="663">B0.01U</text>
<text x="877" y="606">+16V</text><text x="851" y="639">C535</text><text x="847" y="645">D50V47U</text><text x="910" y="642">C530</text><text x="908" y="649">B0.01U</text>
<text x="955" y="613">N502</text><text x="991" y="649">C537</text><text x="992" y="655">D47U</text><text x="1036" y="651">C531</text><text x="1035" y="657">B0.01U</text>
<text x="1067" y="612">N503</text><text x="1124" y="646">C538</text><text x="1124" y="652">D47U</text><text x="1160" y="638">C532</text><text x="1159" y="645">B0.01U</text>
</g>

<!-- V501 / V503 / V410 AREA -->
<path class="l" d="M287.7,584H336V614 M298.5,584V626.5H316 M240,609.3H320 M325,609.3H385V597 M201.6,626.5H231 M240,609.3V620.5 M240,633V663.3 M202.5,626.5V663.3H240 M202.5,647H240 M240,663.3H285V650
M327.5,620.5V614 M327.5,633V638.6H425 M377.5,638.6V665 M402.5,638.6V665H377.5 M425,638.6V655 M425,660V691H434 M445,691H800V731H807 M160,685.4V710.9H428V697L436,694
M609.5,584L604,590 M604,602V610 M612,592V630V640H620
"/>
<use href="#rh" x="327" y="584"/><use href="#rv" x="298.5" y="600"/><use href="#rh" x="268.5" y="609.3"/><use href="#cq" x="322.5" y="609.3"/><use href="#tm" x="385" y="593"/>
<use href="#tr" x="237" y="626.5"/><use href="#rh" x="220" y="647"/><use href="#cq" x="222" y="663.3"/><use href="#tm" x="285" y="646"/>
<use href="#tr" x="323" y="626.5"/><use href="#rh" x="356" y="638.6"/><use href="#rv" x="377.5" y="652"/><use href="#cp" x="402.5" y="652"/><use href="#dd" x="425" y="657"/><use href="#gd" x="377.5" y="665"/>
<use href="#dl" x="440" y="691"/>
<use href="#tr" x="603" y="590"/><use href="#rv" x="612" y="603"/><use href="#gd" x="612" y="614"/>
<g fill="#111"><circle cx="298.5" cy="584" r="1.3"/><circle cx="202.5" cy="647" r="1.3"/><circle cx="240" cy="647" r="1.3"/><circle cx="377.5" cy="638.6" r="1.3"/><circle cx="402.5" cy="638.6" r="1.3"/></g>
<g>
<text x="318" y="570">R505</text><text x="317" y="577">2Y0.39</text><text x="305" y="595">R502</text><text x="310" y="601">1K</text>
<text x="262" y="600">R507</text><text x="263" y="605">27K</text><text x="344" y="600">C533</text><text x="341" y="606">D50V100U</text><text x="389" y="593">+18V</text>
<text x="249" y="620">V501</text><text x="243" y="629">2SC1615Y</text><text x="244" y="637">R506</text><text x="240" y="643">2Y0.27</text>
<text x="206" y="671">C501</text><text x="205" y="678">D50V100U</text><text x="277" y="641">-18V</text>
<text x="330" y="623">V503</text><text x="324" y="630">2SA1015Y</text><text x="349" y="647">R513</text><text x="350" y="654">20K</text>
<text x="381" y="652">R514</text><text x="382" y="658">10K</text><text x="401" y="624">C503</text><text x="401" y="632">D100U</text>
<text transform="translate(418,680) rotate(-90)">2CK750</text><text transform="translate(426,680) rotate(-90)">VD501</text>
<text x="432" y="689">K</text><text x="449" y="689">A</text><text x="437" y="702">G</text><text x="449" y="702">VD492</text><text x="444" y="708">SFOR3G42</text>
<text x="575" y="584">V410</text><text x="566" y="590">2SC4686A</text><text x="580" y="600">R420</text><text x="574" y="606">1/4T2.2K</text>
<text x="531" y="618">Z401</text><text x="520" y="624">TPA6032AH</text>
</g>
<!-- Z401 -->
<rect class="d" x="515" y="629" width="91" height="20"/>
<path class="l" d="M525,637H534 M541,637H564V648 M568,637H586 M600,637H620 M620,637V584 M560,665V680 M504,637H518 M504,637V706"/>
<use href="#dr" x="538" y="637"/><rect class="l" x="568" y="633" width="18" height="8" fill="#fff"/><use href="#cq" x="560" y="642"/>
<g class="l" fill="#fff"><circle cx="521" cy="637" r="4.3"/><circle cx="604" cy="637" r="4.3"/><circle cx="560" cy="659" r="4.3"/></g>
<text x="519" y="639.5" font-size="5">C</text><text x="602" y="639.5" font-size="5">Y</text><text x="558" y="661.5" font-size="5">G</text>
<use href="#gd" x="560" y="680"/>

<!-- POWER INPUT / H-DRIVE LEFT -->
<g>
<text transform="translate(19,712) rotate(-90)" font-size="5.8">TO POWER BOARD</text>
<text x="51" y="679">2PP</text><text x="64" y="679">XS408</text><text x="26" y="688">+148V</text><text x="30" y="704">GND</text>
<text x="51" y="726">3PP</text><text x="64" y="726">XP402A</text><text x="32" y="736">H-DR</text><text x="34" y="766">GND</text>
<text x="51" y="786">7PP</text><text x="64" y="786">XP401</text>
<text transform="translate(24,864) rotate(-90)" font-size="5.8">TO-MAIN-BOARD</text>
<text x="34" y="800">GND</text><text x="34" y="810">H-DR</text><text x="32" y="821">V-SYN</text><text x="32" y="831">V-DRB</text><text x="32" y="841">V-DRA</text><text x="34" y="851">E-W</text><text x="32" y="862">H-SYN</text>
</g>
<path class="l" d="M44,685.4H66 M74,685.4H160 M44,701.4H66 M74,701.4H87.5V706 M44,733.7H66 M74,733.7H107.5V807.8 M70,748.9H85 M44,764H66 M74,764H85
M44,797.6H66 M74,797.6H95V802 M44,807.8H66 M74,807.8H350V870.6 M44,818.5H66 M74,818.5H405V887.7 M44,828.7H66 M74,828.7H131V795.7H615 M44,839H66 M74,839H110V897.2H132 M44,848.5H66 M74,848.5H115V924.6H131 M44,860H66 M74,860H95
M79,682V705 M79,730V768 M79,794V864"/>
<use href="#cl" x="70" y="685.4"/><use href="#cl" x="70" y="701.4"/><use href="#cl" x="70" y="733.7"/><use href="#cl" x="70" y="748.9"/><use href="#cl" x="70" y="764"/>
<use href="#cl" x="70" y="797.6"/><use href="#cl" x="70" y="807.8"/><use href="#cl" x="70" y="818.5"/><use href="#cl" x="70" y="828.7"/><use href="#cl" x="70" y="839"/><use href="#cl" x="70" y="848.5"/><use href="#cl" x="70" y="860"/>
<use href="#gd" x="87.5" y="706"/><use href="#gd" x="95" y="802"/>

<!-- V491 region -->
<path class="l" d="M160,710.9H192 M205,710.9H232 M248,710.9H292 M298,710.9H330 M198.5,716V728 M198.5,742V779.3 M256,710.9V779.3 M256,748.9H328.5V710.9 M275,710.9V748.9 M310,710.9V757 M160,710.9V779.3H375V756.5H612.5V821H784 M310,748.9V757"/>
<path class="l" d="M192,710.9L196,715H201L205,710.9M193,716H204"/>
<use href="#rh" x="240" y="710.9"/><use href="#dl" x="295" y="710.9"/><use href="#rv" x="198.5" y="735"/><use href="#rv" x="256" y="734"/><use href="#cp" x="275" y="728"/><use href="#rv" x="310" y="723"/><use href="#cp" x="328.5" y="724"/><use href="#cp" x="256" y="769.8"/>
<use href="#gd" x="310" y="757"/><use href="#rh" x="175" y="779.3"/><use href="#rh" x="223.5" y="779.3"/>
<use href="#wt" x="175" y="793"/><use href="#wt" x="222.5" y="793"/>
<g fill="#111"><circle cx="256" cy="710.9" r="1.3"/><circle cx="275" cy="710.9" r="1.3"/><circle cx="310" cy="710.9" r="1.3"/><circle cx="198.5" cy="779.3" r="1.3"/><circle cx="256" cy="779.3" r="1.3"/><circle cx="310" cy="748.9" r="1.3"/><circle cx="160" cy="710.9" r="1.3"/></g>
<g>
<text x="191" y="698">V491</text><text x="187" y="705">2SA1320</text><text x="233" y="699">R495</text><text x="229" y="706">1/2Y39K</text>
<text x="288" y="694">VD491</text><text x="287" y="702">W05Z128</text>
<text x="206" y="731">R494</text><text x="206" y="738">100</text><text x="236" y="732">R496</text><text x="238" y="739">15K</text>
<text x="283" y="731">C494</text><text x="283" y="738">D22U</text><text x="314" y="738">R497</text><text x="318" y="743">1K</text>
<text x="340" y="732">C492</text><text x="340" y="739">B50V0.47U</text>
<text x="168" y="764">R498</text><text x="165" y="772">1J0.47</text><text x="218" y="764">R448</text><text x="218" y="772">1F0.33</text>
<text x="265" y="765">C450</text><text x="265" y="772">D250V100U</text>
</g>

<!-- N401 TDA8351 -->
<path class="l" d="M161,857.5L177.5,840H327.5V883.9H161Z" fill="#fff"/>
<text x="222" y="856">N401</text><text x="248" y="856">TDA8351</text>
<g font-size="5"><text x="169" y="880">I+</text><text x="188" y="880">I-</text><text x="206" y="880">Vp</text><text x="222" y="880">Vo(B)</text><text x="240" y="880">GND</text><text x="258" y="880">Vfb</text><text x="273" y="880">Vo(a)</text><text x="292" y="880">Vo</text><text x="310" y="880">Vi fb</text></g>
<g class="l" fill="#fff"><circle cx="172.5" cy="888.8" r="3.8"/><circle cx="190.5" cy="888.8" r="3.8"/><circle cx="209" cy="888.8" r="3.8"/><circle cx="226.5" cy="888.8" r="3.8"/><circle cx="244" cy="888.8" r="3.8"/><circle cx="261.5" cy="888.8" r="3.8"/><circle cx="279" cy="888.8" r="3.8"/><circle cx="297" cy="888.8" r="3.8"/><circle cx="314" cy="888.8" r="3.8"/></g>
<g font-size="4.6" text-anchor="middle"><text x="172.5" y="890.5">1</text><text x="190.5" y="890.5">2</text><text x="209" y="890.5">3</text><text x="226.5" y="890.5">4</text><text x="244" y="890.5">5</text><text x="261.5" y="890.5">6</text><text x="279" y="890.5">7</text><text x="297" y="890.5">8</text><text x="314" y="890.5">9</text></g>
<path class="l" d="M107.5,897.2H172.5V892.6 M157.5,897.2V916.8H190.5 M157.5,905.5H190.5 M190.5,892.6V916.8 M131,924.6H209V892.6
M209,900H226.5 M217.5,900V908 M226.5,892.6V980.8 M244,892.6V906.7H260V918 M226.5,925.7H244 M261.5,892.6V897.2H279 M279,892.6V1030 M297,892.6V898 M305,905V940 M314,892.6V930H303
M296,940L305,934M296,948L305,952V980.8 M296,935V953 M289,945H296
M175,937.9V965 M89,936V937.9H175 M89,962V959.2H210 M141.5,937.9V962 M167.5,937.9V962 M187.5,937.9V965 M140,959.2V985 M165,959.2V985 M187.5,959.2V965
M242.5,925V980.8 M227.5,980.8H330V998 M241,994H279 M241,980.8V996 M277.5,980.8V996
M241,1016V1045.5 M277.5,1016V1039.8 M170,1013V1030H190V1013 M180,1030V1060 M350,1013V1030H365V1013 M357.5,1030V1060 M405,1010V1025H422V1010 M413.5,1025V1060
M350,870.6V990 M405,887.7V1005H428 M612.5,821V977H337.5V1060"/>
<use href="#rh" x="137.5" y="897.2"/><use href="#rh" x="175" y="905.5"/><use href="#cq" x="175" y="916.8"/><use href="#rh" x="137.5" y="924.6"/>
<use href="#dl" x="217.5" y="908.6"/><use href="#cp" x="260" y="906.7"/><use href="#cq" x="270" y="897.2"/><use href="#cp" x="226.5" y="925.7"/><use href="#gd" x="260" y="918"/>
<use href="#tm" x="305" y="901.7"/><use href="#rv" x="305" y="918"/>
<use href="#rv" x="227.5" y="953"/><use href="#rv" x="242.5" y="953"/><use href="#rv" x="187.5" y="946"/><use href="#cp" x="167.5" y="949.7"/><use href="#dd" x="141.5" y="948.5"/>
<use href="#tm" x="89" y="932.2"/><use href="#tm" x="89" y="958.8"/><use href="#rh" x="118.5" y="937.9"/><use href="#rh" x="118.5" y="959.2"/>
<use href="#cp" x="140" y="973"/><use href="#cp" x="165" y="973"/><use href="#gd" x="140" y="985"/><use href="#gd" x="165" y="985"/><use href="#gd" x="187.5" y="965"/>
<use href="#rh" x="260" y="980.8"/><use href="#rh" x="305" y="986.5"/><use href="#cq" x="289" y="984.6"/><use href="#cq" x="260" y="994"/><use href="#gd" x="330" y="998"/>
<use href="#iv" x="241" y="996"/><use href="#iv" x="277.5" y="996"/>
<use href="#rh" x="180" y="1013"/><use href="#rh" x="357.5" y="1013"/><use href="#rh" x="413.5" y="1010"/>
<g>
<text x="131" y="889">R401</text><text x="135" y="894">1/4T10</text><text x="140" y="906">R403</text><text x="134" y="911">1/4J3K</text>
<text transform="translate(192,923) rotate(-90)">C401</text><text transform="translate(200,927) rotate(-90)">T1000P</text>
<text x="128" y="917">R402</text><text x="124" y="922">1/4T10</text>
<text transform="translate(212,932) rotate(-90)">VD402</text><text transform="translate(221,928) rotate(-90)">BAV21</text>
<text transform="translate(251,918) rotate(-90)">C409</text><text transform="translate(257,918) rotate(-90)">B0.1U</text>
<text transform="translate(272,920) rotate(-90)">C407</text><text transform="translate(278,924) rotate(-90)">T0.01U</text>
<text x="293" y="898">+8V-1</text><text transform="translate(297,924) rotate(-90)">R413</text><text transform="translate(302,926) rotate(-90)">1/4T1K</text>
<text x="297" y="956">V401</text><text x="295" y="962">2SA1015Y</text>
<text x="233" y="931">C408</text><text x="230" y="937">B0.1U</text>
<text transform="translate(216,965) rotate(-90)">R407</text><text transform="translate(222,967) rotate(-90)">1/2Y1.5</text>
<text x="246" y="950">R408</text><text x="246" y="956">1/2Y1.5</text>
<text transform="translate(202,955) rotate(-90)">R406</text><text transform="translate(207,957) rotate(-90)">1Y5.6K</text>
<text x="165" y="929">C402</text><text x="165" y="935">D50V470u</text>
<text x="114" y="949">VD401</text><text x="115" y="955">BAV21</text>
<text x="106" y="934">R404</text><text x="123" y="934">1/2Y33</text><text x="80" y="928">+45V</text><text x="78" y="953">+22V</text>
<text x="110" y="967">R405</text><text x="110" y="972">1/2Y1</text>
<text x="134" y="988">C404</text><text x="124" y="993">D25V470u</text><text x="164" y="988">C403</text><text x="168" y="993">B0.1U</text>
<text x="230" y="982">R409</text><text x="230" y="988">1Y220</text><text x="299" y="978">R410</text><text x="294" y="983">1/2Y20</text>
<text x="284" y="1000">C406</text><text x="283" y="1005">B0.22u</text><text x="252" y="1004">C405</text><text x="249" y="1009">T1000P</text>
<text x="218" y="1009">L401</text><text x="203" y="1016">TEM2011Y</text><text x="258" y="1016">L402</text><text x="246" y="1024">TEM2011Y</text>
<text x="178" y="998">R493</text><text x="174" y="1005">1Y560</text><text x="351" y="996">R492</text><text x="349" y="1005">1Y560</text><text x="407" y="992">R491</text><text x="403" y="1000">1Y560</text>
</g>

<!-- DY connectors -->
<path class="l" d="M118.5,1045.5H425 M148.5,1039.8H400 M228,1051.2H340 M178.5,1030V1060 M193.5,1020V1060 M118.5,1045.5V1060 M148.5,1039.8V1060 M227.5,1051.2V1060 M257.5,1039.8V1060 M287.5,1030V1060 M301.5,1051.2V1060 M337.5,1045.5V1060 M367.5,1039.8V1060 M397.5,1030V1060 M412.5,1020V1060"/>
<path class="d" d="M116,1060.7H196 M225,1060.7H304 M335,1060.7H415"/>
<use href="#cb" x="118.5" y="1068"/><use href="#cb" x="133.5" y="1068"/><use href="#cb" x="148.5" y="1068"/><use href="#cb" x="163.5" y="1068"/><use href="#cb" x="178.5" y="1068"/><use href="#cb" x="193.5" y="1068"/>
<use href="#cb" x="227.5" y="1068"/><use href="#cb" x="242.5" y="1068"/><use href="#cb" x="257.5" y="1068"/><use href="#cb" x="272.5" y="1068"/><use href="#cb" x="287.5" y="1068"/><use href="#cb" x="301.5" y="1068"/>
<use href="#cb" x="337.5" y="1068"/><use href="#cb" x="352.5" y="1068"/><use href="#cb" x="367.5" y="1068"/><use href="#cb" x="382.5" y="1068"/><use href="#cb" x="397.5" y="1068"/><use href="#cb" x="412.5" y="1068"/>
<g fill="#111"><circle cx="148.5" cy="1039.8" r="1.3"/><circle cx="257.5" cy="1039.8" r="1.3"/><circle cx="367.5" cy="1039.8" r="1.3"/><circle cx="337.5" cy="1045.5" r="1.3"/><circle cx="241" cy="1045.5" r="1.3"/><circle cx="180" cy="1030" r="1.3"/></g>
<g>
<text x="200" y="1072">XS404</text><text x="306" y="1071">XS403</text><text x="421" y="1072">XS402</text>
<text x="197" y="1088">6PP</text><text x="307" y="1085">6PP</text><text x="424" y="1085">6PP</text>
<text x="115" y="1099">H1</text><text x="145" y="1099">H2</text><text x="175" y="1099">V1</text><text x="190" y="1099">V2</text><text x="153" y="1110">DY-R</text>
<text x="224" y="1099">H1</text><text x="254" y="1099">H2</text><text x="284" y="1099">V1</text><text x="298" y="1099">V2</text><text x="264" y="1109">DY-G</text>
<text x="334" y="1099">H1</text><text x="364" y="1099">H2</text><text x="394" y="1099">V1</text><text x="409" y="1099">V2</text><text x="374" y="1105">DY-B</text>
</g>

<!-- MIDDLE LOWER: H-DRIVE -->
<path class="l" d="M427.5,772V795.7 M427.5,795.7V830H441V795.7 M502.5,795.7V818 M517.5,795.7V818
M390,795.7V836 M350,870.6V864.9H400V877 M352.5,864.9V908 M352.5,908H338.5V947H390 M367.5,915H352.5 M367.5,908V947 M374,908V920H385V947 M386.5,920V947 M375,908V896H419 M419,896V947H435 M435,890V947 M405,887.7V904H419
M390,836H440V860.3H460 M460,840.1H470V852 M424,860.3H475 M478,848V840.1H504V870 M504,840.1H532 M559,840.1H568 M582,840.1H595V918 M532,851.6H559 M532,840.1V851.6 M559,840.1V851.6 M482.5,864V880 M504,840.1V865
M435,930H455V938 M460,930H445 M485,930H495V939H545 M550,928V923.8H560 M548,918V908.6H565 M580,908.6H595 M560,918V958H655 M595,918V958 M617.5,908.6V958 M632.5,908.6V958 M595,918H666 M649,918V958 M666,917H695 M719,917H767.6V803H807 M666,917V958 M584,958V940
M669,926.6H666 M560,940H580 M500,638V771.7H790 M517.5,706H784"/>
<use href="#tm" x="427.5" y="768.7"/><use href="#dd" x="427.5" y="785"/><use href="#dd" x="427.5" y="807.8"/><use href="#rv" x="441" y="810"/>
<use href="#rh" x="474" y="795.7"/><use href="#cq" x="537.5" y="795.7"/><use href="#cp" x="502.5" y="807.8"/><use href="#dd" x="517.5" y="804"/><use href="#gd" x="502.5" y="818"/><use href="#gd" x="517.5" y="818"/>
<use href="#cp" x="390" y="836"/><use href="#gd" x="390" y="845"/>
<use href="#rh" x="460" y="840.1"/><use href="#rh" x="432.5" y="860.3"/><use href="#wt" x="487.5" y="833.7"/>
<path class="l" d="M478,846V866M482,846V866M482,848H492M482,864H492M475,856H478"/><use href="#gd" x="492" y="870"/>
<use href="#cp" x="504" y="855"/><use href="#gd" x="504" y="868"/>
<rect class="d" x="532" y="833" width="27" height="11"/><use href="#ih" x="536" y="840.1"/><use href="#rh" x="575" y="839.4"/><use href="#cq" x="550" y="851.6"/>
<use href="#rh" x="370" y="864.9"/><use href="#tm" x="400" y="873.6"/><use href="#rv" x="352.5" y="881"/><use href="#cp" x="352.5" y="897.2"/>
<use href="#cp" x="419" y="904"/><use href="#tm" x="435" y="885.8"/><use href="#rv" x="435" y="908"/><use href="#gd" x="419" y="910"/>
<path class="l" d="M367.5,915V935M371,912V938M371,916H380M371,934H380"/>
<use href="#cp" x="385" y="916.2"/><use href="#rv" x="386.5" y="937"/><use href="#rv" x="338.5" y="940.9"/><use href="#du" x="352.5" y="940.9"/><use href="#gd" x="374" y="947"/>
<use href="#cp" x="424" y="939.8"/><use href="#du" x="435" y="940.9"/><use href="#gd" x="435" y="947"/>
<rect x="459" y="917" width="26" height="43" fill="url(#st)" stroke="#555" stroke-width=".5"/>
<path class="l" d="M468,922V955M476,922V955"/><use href="#iv" x="464" y="924"/><use href="#iv" x="478" y="924"/>
<g class="l" fill="#fff"><circle cx="462" cy="921" r="2.8"/><circle cx="483" cy="921" r="2.8"/><circle cx="462" cy="956" r="2.8"/><circle cx="483" cy="956" r="2.8"/></g>
<use href="#wt" x="472.5" y="965.6"/><use href="#wt" x="492.5" y="908.6"/><use href="#gd" x="490" y="958"/>
<use href="#rh" x="507.5" y="939"/><use href="#cq" x="525" y="939"/><use href="#gd" x="525" y="950"/>
<rect x="530" y="910" width="28" height="30" fill="url(#st)"/>
<use href="#tr" x="545" y="923.8"/><use href="#wt" x="542.5" y="901.7"/>
<use href="#ih" x="565" y="908.6"/><use href="#cp" x="562.5" y="925"/><use href="#du" x="602.5" y="920.8"/>
<use href="#cp" x="617.5" y="921.9"/><use href="#cp" x="632.5" y="927.6"/><use href="#cp" x="617.5" y="942.8"/><use href="#cq" x="655" y="929.5"/><use href="#du" x="649" y="940"/>
<rect class="d" x="695" y="911" width="25" height="11"/><use href="#ih" x="698" y="917"/><use href="#cq" x="746.5" y="917"/>
<g fill="#111"><circle cx="427.5" cy="795.7" r="1.3"/><circle cx="441" cy="795.7" r="1.3"/><circle cx="502.5" cy="795.7" r="1.3"/><circle cx="517.5" cy="795.7" r="1.3"/><circle cx="390" cy="795.7" r="1.3"/><circle cx="352.5" cy="864.9" r="1.3"/><circle cx="435" cy="930" r="1.3"/><circle cx="595" cy="918" r="1.3"/><circle cx="617.5" cy="918" r="1.3"/><circle cx="632.5" cy="918" r="1.3"/><circle cx="666" cy="917" r="1.3"/><circle cx="595" cy="958" r="1.3"/></g>
<g>
<text x="400" y="771">+8V-1</text><text x="437" y="782">VD481</text><text x="436" y="787">2CK75D</text>
<text transform="translate(420,818) rotate(-90)">VD482</text><text transform="translate(426,818) rotate(-90)">2CK75D</text>
<text transform="translate(451,820) rotate(-90)">R444</text><text transform="translate(457,828) rotate(-90)">1/4T150K</text>
<text x="470" y="785">R443</text><text x="462" y="791">1/4T3.3K</text><text x="522" y="785">C476</text><text x="519" y="790">B1.6KV2200P</text>
<text x="480" y="812">C475</text><text x="457" y="817">B100V0.056u</text><text x="509" y="821">VD475</text><text x="507" y="826">BAV21</text>
<text transform="translate(402,846) rotate(-90)">C473</text><text transform="translate(409,851) rotate(-90)">T1000P</text>
<text x="457" y="830">R473</text><text x="452" y="836">1/4T47K</text><text x="427" y="850">R474</text><text x="424" y="856">1/4T1.2K</text>
<text x="493" y="849">D</text><text x="474" y="865">G</text><text x="492" y="866">S</text>
<text x="457" y="868">V471</text><text x="430" y="873">BUK444-200B</text>
<text transform="translate(517,864) rotate(-90)">C453</text><text transform="translate(524,872) rotate(-90)">D160V4.7U</text>
<text x="542" y="825">L432</text><text x="532" y="831">LGT-14mH</text><text x="572" y="827">R471</text><text x="572" y="833">3Y15</text>
<text x="542" y="864">C471</text><text x="540" y="869">T500V1000P</text>
<text x="363" y="854">R432</text><text x="355" y="860">1/4T1.8K</text><text x="396" y="866">+8V-1</text>
<text x="359" y="881">R434</text><text x="359" y="887">1/4T1K</text><text x="359" y="893">C431</text><text x="359" y="898">D10U</text>
<text x="407" y="887">C480</text><text x="395" y="892">D25V100u</text><text x="442" y="888">+16V</text>
<text transform="translate(445,914) rotate(-90)">R437</text><text transform="translate(451,912) rotate(-90)">1Y68</text>
<text x="469" y="901">T431</text><text x="464" y="907">BCT-8</text>
<text transform="translate(447,958) rotate(-90)">VD478</text><text transform="translate(453,958) rotate(-90)">2CK75D</text>
<text transform="translate(416,950) rotate(-90)">C434</text><text transform="translate(421,952) rotate(-90)">B0.47U</text>
<text x="381" y="904">V432</text><text x="374" y="909">BSN304</text><text x="372" y="921">D</text><text x="360" y="931">G</text><text x="372" y="940">S</text>
<text transform="translate(396,928) rotate(-90)">C432</text><text transform="translate(403,932) rotate(-90)">T0.01U</text>
<text x="335" y="922">R435</text><text x="326" y="928">1/4T18K</text><text x="345" y="960">VD431</text><text x="345" y="965">2CK75D</text>
<text x="380" y="966">R433</text><text x="368" y="972">1/4T390</text><text x="395" y="960">C432A</text><text x="394" y="966">T470P</text>
<text x="509" y="909">V433</text><text x="502" y="915">BU2720DX</text>
<text x="499" y="945">R440</text><text x="492" y="950">1/4T10</text><text x="522" y="947">C472</text><text x="522" y="952">B0.1u</text>
<text x="570" y="900">L431</text><text x="557" y="906">TEM2011Y</text><text x="558" y="917">C436</text><text x="560" y="921">T2KV1500P</text>
<text x="577" y="940">VD433</text><text x="566" y="946">BY359F-1500</text>
<text transform="translate(614,894) rotate(-90)">C437</text><text transform="translate(621,904) rotate(-90)">B1.6KV7200P</text>
<text transform="translate(633,892) rotate(-90)">C438</text><text transform="translate(640,904) rotate(-90)">B1.6KV7200P</text>
<text x="607" y="961">C439</text><text x="602" y="967">B60018N</text><text x="647" y="916">C440</text><text x="636" y="922">B400V0.36U</text>
<text transform="translate(664,970) rotate(-90)">VD434A</text><text transform="translate(670,968) rotate(-90)">BYW96D</text>
<text x="697" y="938">L434</text><text x="695" y="943">LGT-1.5mH</text><text x="745" y="938">C442</text><text x="732" y="943">B400V0.33u</text>
</g>

<!-- +45V / +22V -->
<path class="l" d="M635,719V731.8H690 M667.5,731.8V745 M680,731.8V745H715V731.8 M703,731.8H721 M734,731H765V748.4H807 M649,752V768H704 M687.5,768V785 M700,768V779H720V768 M716,768H733 M747,766.5H807 M752,766.5V695.2H1013.7V734"/>
<use href="#tm" x="635" y="715.4"/><use href="#cp" x="667.5" y="736"/><use href="#gd" x="667.5" y="745"/><use href="#dl" x="699" y="731.8"/><use href="#rh" x="727.5" y="731.8"/><use href="#cq" x="697.5" y="745"/>
<use href="#tm" x="649" y="748.9"/><use href="#cp" x="687.5" y="775.5"/><use href="#gd" x="687.5" y="785"/><use href="#dl" x="710" y="768"/><use href="#rh" x="740" y="766.5"/><use href="#cq" x="710" y="779.3"/>
<g>
<text x="629" y="709">+45V</text><text x="660" y="725">C448</text><text x="652" y="730">D63V100u</text><text x="694" y="720">VD438</text><text x="692" y="726">2CZRU2</text>
<text x="730" y="721">R450</text><text x="727" y="726">2Y0.68</text><text x="715" y="745">C452</text><text x="714" y="751">T500V220P</text>
<text x="637" y="745">+22V</text><text x="682" y="761">VD437</text><text x="702" y="761">2CZRU2</text><text x="745" y="776">R449</text><text x="745" y="781">2Y0.68</text>
<text x="665" y="777">C449</text><text x="649" y="782">D25V470u</text><text x="716" y="787">C451</text><text x="704" y="792">T500V220P</text>
</g>

<!-- T402 -->
<rect x="810" y="706" width="142" height="255" fill="url(#st)"/>
<rect class="d" x="810" y="706" width="142" height="255"/>
<rect class="l" x="869" y="722" width="9" height="238" fill="#c8c8c8"/>
<path class="l" d="M811,731H869 M811,748.4H842 M811,766.5H830 M811,785H842 M811,803H830 M811,819.8H842 M811,837.2H830 M811,856H830 M811,874H830 M811,909.2H830 M811,926.6H830 M811,945H830
M896.7,731H949.7 M896.7,731V944H949.7 M905.8,798V930 M920.4,798V930 M905.8,798H920.4 M905.8,930H920.4 M920.4,801H949.7 M920.4,820H949.7 M933,820V854.6H949.7 M920.4,873H949.7 M905.8,908H949.7 M949.7,908H956V914"/>
<use href="#iv" x="838" y="750"/><use href="#iv" x="838" y="770"/><use href="#iv" x="838" y="790"/><use href="#iv" x="838" y="810"/><use href="#iv" x="826" y="768"/><use href="#iv" x="826" y="788"/><use href="#iv" x="826" y="812"/><use href="#iv" x="826" y="856"/><use href="#iv" x="826" y="909"/><use href="#iv" x="826" y="927"/>
<use href="#du" x="896.7" y="748.4"/><use href="#du" x="896.7" y="803"/><use href="#du" x="896.7" y="856"/><use href="#du" x="896.7" y="909.2"/>
<use href="#iv" x="896.7" y="760"/><use href="#iv" x="896.7" y="815"/><use href="#iv" x="896.7" y="868"/><use href="#iv" x="896.7" y="920"/>
<use href="#rv" x="905.8" y="818.8"/><use href="#rv" x="920.4" y="818.8"/><use href="#rv" x="905.8" y="872.7"/><use href="#rv" x="920.4" y="872.7"/><use href="#cp" x="933" y="830"/><use href="#rv" x="933" y="842"/><use href="#gd" x="956" y="914"/>
<g class="l" fill="#fff">
<circle cx="811" cy="731" r="4"/><circle cx="811" cy="748.4" r="4"/><circle cx="811" cy="766.5" r="4"/><circle cx="811" cy="785" r="4"/><circle cx="811" cy="803" r="4"/><circle cx="811" cy="819.8" r="4"/><circle cx="811" cy="837.2" r="4"/><circle cx="811" cy="856" r="4"/><circle cx="811" cy="874" r="4"/><circle cx="811" cy="909.2" r="4"/><circle cx="811" cy="926.6" r="4"/><circle cx="811" cy="945" r="4"/>
<circle cx="949.7" cy="731" r="4"/><circle cx="949.7" cy="801" r="4"/><circle cx="949.7" cy="820" r="4"/><circle cx="949.7" cy="854.6" r="4"/><circle cx="949.7" cy="873" r="4"/><circle cx="949.7" cy="908" r="4"/><circle cx="949.7" cy="944" r="4"/>
</g>
<g font-size="4.3" text-anchor="middle">
<text x="811" y="732.5">13</text><text x="811" y="750">12</text><text x="811" y="768">11</text><text x="811" y="786.5">10</text><text x="811" y="804.5">8</text><text x="811" y="821.3">7</text><text x="811" y="838.7">6</text><text x="811" y="857.5">5</text><text x="811" y="875.5">4</text><text x="811" y="910.7">3</text><text x="811" y="928.1">2</text><text x="811" y="946.5">1</text>
<text x="949.7" y="732.5">HV</text><text x="949.7" y="802.5">F1</text><text x="949.7" y="821.5">F2</text><text x="949.7" y="856">F</text><text x="949.7" y="874.5">SV</text><text x="949.7" y="909.5">RT</text><text x="949.7" y="945.5">G</text>
</g>
<g><text x="957" y="735">EHT</text><text x="965" y="798">FOC1</text><text x="849" y="977">T402</text><text x="874" y="977">B5C72T</text></g>
<use href="#wt" x="838" y="970"/>
<path class="l" d="M807,803H767.6 M807,926.6H767.6 M807,837.2H788.7V850 M807,819.8H793.5V991.6H1207V860 M807,909.2H786.9V1002.9H1100 M807,945H782.5V974H671.6V911 M807,874H800 M807,856H800 M807,748.4H765
M953.7,731H972.4V684H1146.7V687.7 M953.7,944H980V908.6H1240 M953.7,908H966V918"/>
<use href="#gd" x="788.7" y="850"/><use href="#gd" x="966" y="918"/>

<!-- R453 / VD440 -->
<rect x="827" y="995" width="28" height="16" fill="url(#st)"/>
<use href="#rh" x="838.6" y="1002.9"/><use href="#dr" x="871.4" y="1002.9"/><use href="#wt" x="838.6" y="1024"/>
<path class="l" d="M862,1002.9V1026H875 M888,1026H890V1002.9 M914.4,1002.9V1030"/>
<use href="#cq" x="881.5" y="1026"/><use href="#cp" x="914.4" y="1015.4"/><use href="#gd" x="914.4" y="1030"/>
<g fill="#111"><circle cx="862" cy="1002.9" r="1.3"/><circle cx="890" cy="1002.9" r="1.3"/><circle cx="914.4" cy="1002.9" r="1.3"/></g>
<g><text x="810" y="1016">R453</text><text x="808" y="1021">1Y0.68</text><text x="853" y="998">VD440</text><text x="876" y="998">2CZRU2</text>
<text x="871" y="1036">C458</text><text x="864" y="1043">T500V220P</text><text x="924" y="1017">C459</text><text x="924" y="1023">D250V10u</text></g>

<!-- T432 etc bottom -->
<rect x="522" y="1002" width="28" height="44" fill="url(#st)" stroke="#555" stroke-width=".5"/>
<path class="l" d="M533,1008V1040M539,1008V1040"/><use href="#iv" x="528" y="1010"/><use href="#iv" x="543" y="1010"/>
<g class="l" fill="#fff"><circle cx="526" cy="1006" r="2.8"/><circle cx="547" cy="1006" r="2.8"/><circle cx="526" cy="1042" r="2.8"/><circle cx="547" cy="1042" r="2.8"/></g>
<path class="l" d="M468,996H505V1006H523 M468,996V1017H505 M482,996V1030 M505,1010V1030H523V1042 M470,1003V1012 M550,1006H612.5V977 M550,1042H645V1032 M565,1042V1055H645 M686,977V1060 M672.5,1030H705V1040 M705,1030V977"/>
<use href="#rv" x="468" y="1005"/><use href="#iv" x="482" y="1003"/><use href="#rv" x="505" y="1018"/>
<use href="#cp" x="575" y="1048"/><use href="#cp" x="612.5" y="1048"/><use href="#gd" x="592" y="1055"/><use href="#wt" x="534" y="1056"/>
<use href="#rv" x="686" y="1023"/><use href="#cp" x="705" y="1022.7"/><use href="#gd" x="705" y="1040"/>
<use href="#cb" x="672.5" y="1068"/><use href="#cb" x="687.5" y="1068"/>
<g>
<text x="481" y="994">L433</text><text x="483" y="1000">HXT35</text><text x="440" y="1002">R442</text><text x="441" y="1008">1Y1K</text>
<text x="482" y="1032">R442A</text><text x="485" y="1037">2Y27</text><text x="557" y="998">T432</text><text x="557" y="1004">DFT01</text>
<text x="557" y="1050">C477</text><text x="554" y="1057">T2KV390P</text><text x="614" y="1050">C478</text><text x="614" y="1057">T2KV390P</text>
<text x="666" y="1020">R421</text><text x="660" y="1028">1/2Y2.2M</text><text x="715" y="1020">C420</text><text x="715" y="1028">T2KV1500P</text>
<text x="695" y="1068">XS407</text><text x="698" y="1078">2PP</text><text x="666" y="1092">DGF</text><text x="681" y="1092">GND</text><text x="665" y="1105">TO FOCUS PACK</text>
</g>

<!-- RIGHT LOWER: VD442 / V437 / V436 -->
<path class="l" d="M1013.7,734V738.6H1030 M1036,738.6H1060 M1073,731.8H1121.4V791.5H1214 M1050.7,738.6V752 M998.7,700.2V767 M998.7,776V808H1021.4V817 M998.7,808V817 M1021.4,845V856H1030 M998.7,830V860 M1021.4,830V845 M1035,845H1044 M1050.7,839V850 M1050.7,830.6H1060 M1076,830.6H1100 M1083.5,785V835 M1083.5,806V790H1106V826 M1100,830.6V808 M1106,835V878.2H1172V938.6H1214 M1083.5,842V852 M1106,835V840"/>
<use href="#dr" x="1033" y="738.6"/><use href="#rh" x="1064.9" y="731.8"/><use href="#cp" x="1050.7" y="748.9"/><use href="#gd" x="1050.7" y="755"/>
<use href="#du" x="998.7" y="771.7"/><use href="#cp" x="998.7" y="823"/><use href="#rv" x="1021.4" y="823"/><use href="#rv" x="1021.4" y="857"/><use href="#cp" x="998.7" y="857.3"/><use href="#gd" x="998.7" y="860"/>
<use href="#dl" x="1033" y="844"/><use href="#tr" x="1050.7" y="844"/><use href="#rh" x="1068.4" y="830.6"/><use href="#cp" x="1083.5" y="842"/><use href="#gd" x="1083.5" y="852"/>
<use href="#tm" x="1083.5" y="778.5"/><use href="#rv" x="1083.5" y="813"/><use href="#rv" x="1106" y="810"/><use href="#tr" x="1106" y="830.6"/>
<use href="#tm" x="1182" y="880"/><use href="#tm" x="1194.7" y="775.5"/>
<g>
<text x="1024" y="728">VD442</text><text x="1024" y="734">2CZRU2</text><text x="1058" y="725">R462</text><text x="1058" y="733">1/4T2.7K</text>
<text x="1027" y="754">C463</text><text x="1025" y="759">B0.01U</text>
<text transform="translate(1011,790) rotate(-90)">VD443</text><text transform="translate(1018,790) rotate(-90)">2CZRU2</text>
<text transform="translate(988,835) rotate(-90)">C483</text><text transform="translate(994,835) rotate(-90)">B0.1U</text>
<text transform="translate(1036,833) rotate(-90)">R464</text><text transform="translate(1040,838) rotate(-90)">1/4T68K</text>
<text x="1053" y="821">R463</text><text x="1048" y="826">1/4T10K</text>
<text transform="translate(1012,868) rotate(-90)">R465</text><text transform="translate(1017,870) rotate(-90)">1/4T15K</text>
<text transform="translate(989,868) rotate(-90)">C484</text><text transform="translate(994,868) rotate(-90)">B0.1U</text>
<text transform="translate(1035,868) rotate(-90)">VD439</text><text transform="translate(1040,872) rotate(-90)">W05Z8.2B</text>
<text transform="translate(1060,862) rotate(-90)">V438</text><text transform="translate(1067,870) rotate(-90)">2SC1815Y</text>
<text transform="translate(1096,858) rotate(-90)">C485</text><text transform="translate(1102,862) rotate(-90)">B0.047U</text>
<text x="1092" y="780">+8V-1</text>
<text transform="translate(1080,822) rotate(-90)">R467</text><text transform="translate(1085,824) rotate(-90)">1/4T10K</text>
<text transform="translate(1116,812) rotate(-90)">R466</text><text transform="translate(1122,814) rotate(-90)">1/4T10K</text>
<text transform="translate(1117,845) rotate(-90)">V437</text><text transform="translate(1123,852) rotate(-90)">2SA1015Y</text>
<text x="1183" y="874">+45V</text><text x="1187" y="770">+22V</text>
</g>
<path class="l" d="M980,908.6V924 M980,937V990.3 M1002.7,908.6V917 M1002.7,923V952 M995,934.4H1090 M1071,918H1214 M1039,918V934.4 M1039,918H1048 M1061,918H1071 M1001,934.4V945 M1103,934.4H1106 M1113.9,928V918 M1113.9,940V975 M1119,940V975 M1139,918V935 M1172,908.6V930 M995,945V970 M1002.7,956V985 M1053,975V985H1037V960 M1101,934.4V950"/>
<use href="#dd" x="1002.7" y="920"/><use href="#rv" x="980" y="930"/><use href="#rh" x="1054.8" y="918"/><use href="#rh" x="1023" y="934.4"/><use href="#rh" x="1054.8" y="934.4"/><use href="#rh" x="1086" y="934.4"/>
<use href="#rh" x="1101" y="908.6"/><use href="#tr" x="1113.9" y="934.4"/><use href="#cp" x="1139" y="929"/><use href="#gd" x="1139" y="935"/><use href="#cp" x="1172" y="939"/><use href="#gd" x="1172" y="945"/>
<use href="#cp" x="995" y="952.3"/><use href="#rv" x="1002.7" y="962"/><use href="#gd" x="995" y="972"/><use href="#tm" x="1053" y="971.3"/><use href="#cp" x="1101" y="944.7"/><use href="#rv" x="1119" y="962"/><use href="#gd" x="1119" y="975"/>
<g fill="#111"><circle cx="1002.7" cy="908.6" r="1.3"/><circle cx="1172" cy="908.6" r="1.3"/><circle cx="1039" cy="918" r="1.3"/><circle cx="1139" cy="918" r="1.3"/><circle cx="1113.9" cy="918" r="1.3"/></g>
<g>
<text x="998" y="902">VD441</text><text x="995" y="907">2CK75D</text>
<text transform="translate(989,938) rotate(-90)">R489</text><text transform="translate(994,940) rotate(-90)">1/4T1K</text>
<text x="1024" y="920">R488</text><text x="1012" y="925">1/4T47K</text><text x="1015" y="943">R456</text><text x="1007" y="948">1/4T6.8K</text>
<text x="1047" y="943">R457</text><text x="1044" y="948">1/4T5.6K</text><text x="1080" y="925">R458</text><text x="1075" y="930">1/4T110K</text>
<text x="1091" y="904">R459</text><text x="1110" y="904">1/4TJ2.2M</text>
<text transform="translate(1125,940) rotate(-90)">V436</text><text transform="translate(1131,945) rotate(-90)">2SA1015Y</text>
<text x="1147" y="939">C462</text><text x="1145" y="945">D22U</text><text x="1179" y="940">C482</text><text x="1172" y="946">B0.033U</text>
<text x="969" y="958">C460</text><text x="969" y="964">B0.1u</text><text x="1010" y="962">R455</text><text x="1008" y="971">1/4T3.9K</text>
<text x="1046" y="966">+8V-1</text><text x="1083" y="959">C461</text><text x="1080" y="964">T2200P</text><text x="1123" y="972">R460</text><text x="1123" y="978">1/4T220</text>
</g>

<!-- XS405 / XP406 -->
<path class="l" d="M1194.7,779V782H1214 M1204.8,813.5H1214 M1207,824H1214 M1213,835H1214 M1204,845H1214 M1204.8,813.5V1060 M1207,824V1060 M1195,803V850
M1200,876.7H1214 M1182,884V886.5H1214 M1205,897H1214 M1200,928H1214 M1200,949H1214 M1200,876.7V958 M1172,878.2V908.6"/>
<path class="d" d="M1206,778V850 M1206,872V953"/>
<use href="#cr" x="1214" y="782"/><use href="#cr" x="1214" y="791.5"/><use href="#cr" x="1214" y="803"/><use href="#cr" x="1214" y="813.5"/><use href="#cr" x="1214" y="824"/><use href="#cr" x="1214" y="835"/><use href="#cr" x="1214" y="845"/>
<use href="#cr" x="1214" y="876.7"/><use href="#cr" x="1214" y="886.5"/><use href="#cr" x="1214" y="897"/><use href="#cr" x="1214" y="908.6"/><use href="#cr" x="1214" y="918"/><use href="#cr" x="1214" y="928"/><use href="#cr" x="1214" y="938.6"/><use href="#cr" x="1214" y="949"/>
<use href="#gd" x="1195" y="850"/><use href="#gd" x="1200" y="958"/>
<g>
<text x="1209" y="779">XS405</text><text x="1232" y="778">7PP</text>
<text x="1247" y="784">+22V</text><text x="1247" y="794">SPOT</text><text x="1247" y="816">+200V</text><text x="1247" y="826">V-HEAT</text><text x="1247" y="837">GND</text><text x="1247" y="847">+148V</text>
<text transform="translate(1289,837) rotate(-90)" font-size="5.8">TO-Y-BOARD</text>
<text x="1208" y="871">XP406</text><text x="1233" y="871">8PP</text>
<text x="1247" y="879">GND</text><text x="1247" y="889">+45V</text><text x="1247" y="899">EMC</text><text x="1247" y="910.5">EHT-COMP</text><text x="1247" y="920">BCL</text><text x="1247" y="930">L-ZOOM</text><text x="1247" y="941">OCP/OVP</text><text x="1247" y="951">GND</text>
<text transform="translate(1289,940) rotate(-90)" font-size="5.8">TO-MAIN-BOARD</text>
</g>

<!-- CH01 -->
<rect class="d" x="1140.6" y="690" width="76.8" height="40.6"/>
<path class="l" d="M1214,661.8H1180.5V687.7 M1214,671H1193.6V687.7 M1214,681H1207V687.7 M1148,694V726 M1180.5,694V726 M1207,694V726 M1148,700H1158 M1176,700H1180.5 M1180.5,712H1207 M1163,730V745"/>
<use href="#ih" x="1158" y="700"/><use href="#iv" x="1180.5" y="703"/><use href="#cp" x="1148" y="712"/><use href="#gd" x="1163" y="745"/>
<g class="l" fill="#fff"><circle cx="1146.7" cy="691" r="2.8"/><circle cx="1180.5" cy="691" r="2.8"/><circle cx="1193.6" cy="691" r="2.8"/><circle cx="1207" cy="691" r="2.8"/><circle cx="1148" cy="730" r="2.8"/><circle cx="1180.5" cy="730" r="2.8"/><circle cx="1207" cy="730" r="2.8"/></g>
<text x="1189" y="742">CH01</text><text x="1179" y="748">MSC102-01C</text>

<!-- other long wires middle -->
<path class="l" d="M624,590V1005H669 M700,680V765 M768,560V690 M784,771.7V820 M1033,583V668 M828,556V632"/>

<!-- WATERMARK -->
<text x="532" y="612" font-size="47" textLength="500" lengthAdjust="spacingAndGlyphs" style="font-family:'DejaVu Sans Mono','Liberation Mono',monospace;font-weight:bold;fill:#cdcdeb;opacity:.85">WWW.520101.COM</text>

<!-- NOTES -->
<text x="1255" y="1001" font-size="14.5" class="cs" textLength="273" lengthAdjust="spacingAndGlyphs">此图仅供参考.电路更改恕不预先通知.</text>
<text x="1246" y="1036" font-size="8.5" class="cs" font-weight="bold" textLength="236" lengthAdjust="spacingAndGlyphs">⚠ 凡标有该标记者在整机安全和性能上有特殊要求,</text>
<text x="1258" y="1057" font-size="8.5" class="cs" font-weight="bold" textLength="137" lengthAdjust="spacingAndGlyphs">请一定使用原规格型号的元器件</text>
<text x="1218" y="1158" font-size="13.5" textLength="310" lengthAdjust="spacingAndGlyphs"><tspan class="cj" font-weight="bold">《无线电》杂志社</tspan><tspan style="font-family:'Liberation Serif',serif"> (www.radio.com.cn) </tspan><tspan class="cj" font-weight="bold">制作</tspan></text>
</svg>
</body></html>
